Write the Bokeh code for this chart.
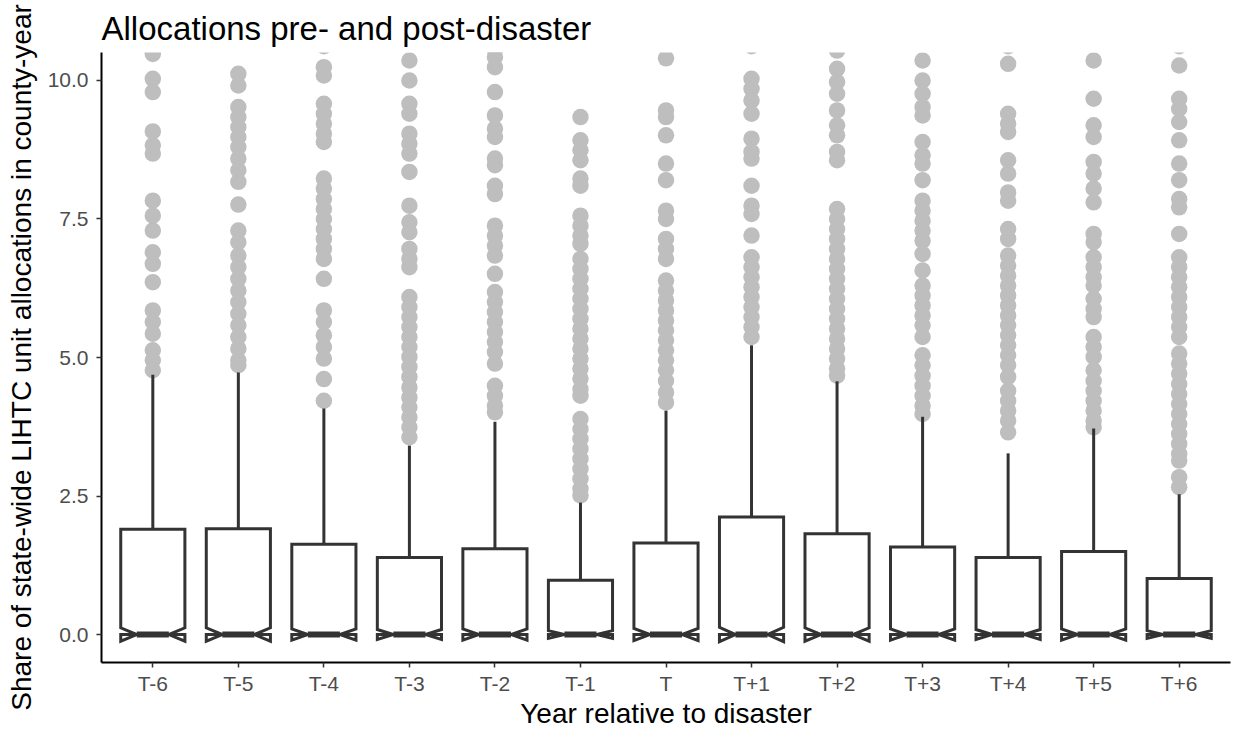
from bokeh.plotting import figure
from bokeh.models import Range1d, FixedTicker, PrintfTickFormatter
from bokeh.embed import file_html
from bokeh.resources import INLINE

categories = ["T-6", "T-5", "T-4", "T-3", "T-2", "T-1", "T",
              "T+1", "T+2", "T+3", "T+4", "T+5", "T+6"]
q1 = [0.0] * 13
median = [0.0] * 13
q3 = [1.90, 1.91, 1.63, 1.39, 1.55, 0.98, 1.65, 2.12, 1.82, 1.58, 1.39, 1.50, 1.01]
whisker_hi = [4.69, 4.73, 4.08, 3.41, 3.84, 2.38, 4.04, 5.22, 4.57, 3.93, 3.27, 3.72, 2.53]
notch = [0.12, 0.12, 0.10, 0.09, 0.10, 0.07, 0.11, 0.13, 0.12, 0.10, 0.09, 0.10, 0.07]

out_tm6 = [10.48, 10.03, 9.79, 9.08, 8.83, 8.68, 7.83, 7.56, 7.29, 6.90, 6.69, 6.36,
           5.85, 5.64, 5.43, 5.13, 4.95, 4.77]
out_tm5 = [10.12, 9.91, 9.52, 9.34, 9.16, 8.98, 8.80, 8.59, 8.38, 8.17, 7.76, 7.29, 7.08,
           6.84, 6.63, 6.42, 6.21, 6.00, 5.79, 5.58, 5.37, 5.16, 4.95, 4.86]
out_tm4 = [10.62, 10.24, 10.09, 9.58, 9.40, 9.22, 9.04, 8.89, 8.23, 8.05, 7.86, 7.68, 7.50,
           7.32, 7.14, 6.96, 6.78, 6.42, 5.85, 5.64, 5.40, 5.19, 4.98, 4.61, 4.22]
out_tm3 = [10.36, 10.00, 9.58, 9.40, 9.04, 8.86, 8.68, 8.35, 7.74, 7.44, 7.26, 6.96, 6.78,
           6.63, 6.09, 5.91, 5.73, 5.55, 5.37, 5.19, 5.01, 4.83, 4.65, 4.46, 4.28, 4.10,
           3.92, 3.74, 3.56]
out_tm2 = [10.55, 10.42, 10.24, 9.79, 9.37, 9.13, 8.98, 8.59, 8.47, 8.10, 7.95, 7.38, 7.20,
           7.02, 6.84, 6.51, 6.18, 6.00, 5.82, 5.64, 5.46, 5.28, 5.10, 4.89, 4.49, 4.31,
           4.13, 4.01]
out_tm1 = [9.34, 8.92, 8.74, 8.56, 8.23, 8.10, 7.56, 7.38, 7.20, 7.05, 6.78, 6.60, 6.42,
           6.24, 6.06, 5.88, 5.70, 5.52, 5.34, 5.16, 4.98, 4.80, 4.62, 4.43, 4.31, 3.89,
           3.71, 3.53, 3.35, 3.17, 2.99, 2.81, 2.63, 2.51]
out_t0 = [10.40, 9.46, 9.34, 9.01, 8.50, 8.20, 7.65, 7.50, 7.14, 6.96, 6.78, 6.39, 6.21,
          6.03, 5.85, 5.67, 5.49, 5.31, 5.13, 4.95, 4.77, 4.58, 4.37, 4.19]
out_tp1 = [10.62, 10.03, 9.85, 9.64, 9.40, 8.95, 8.71, 8.59, 8.10, 7.74, 7.59, 7.20, 6.81,
           6.63, 6.45, 6.27, 6.09, 5.91, 5.73, 5.55, 5.37]
out_tp2 = [10.54, 10.21, 9.97, 9.76, 9.46, 9.19, 9.01, 8.71, 8.56, 7.68, 7.50, 7.32, 7.14,
           6.96, 6.78, 6.60, 6.42, 6.24, 6.06, 5.88, 5.70, 5.52, 5.34, 5.16, 4.98, 4.80,
           4.67]
out_tp3 = [10.36, 10.00, 9.76, 9.52, 9.37, 8.89, 8.65, 8.50, 8.20, 7.83, 7.65, 7.47, 7.29,
           7.11, 6.87, 6.57, 6.30, 6.12, 5.94, 5.76, 5.58, 5.37, 5.04, 4.86, 4.67, 4.49,
           4.31, 4.13, 3.98]
out_tp4 = [10.62, 10.30, 9.40, 9.22, 9.07, 8.56, 8.32, 7.98, 7.83, 7.32, 7.14, 6.84, 6.66,
           6.48, 6.30, 6.12, 5.94, 5.76, 5.58, 5.40, 5.22, 5.04, 4.86, 4.65, 4.40, 4.22,
           4.04, 3.86, 3.65]
out_tp5 = [10.36, 9.67, 9.19, 8.98, 8.53, 8.32, 8.05, 7.80, 7.23, 7.08, 6.81, 6.63, 6.45,
           6.30, 6.06, 5.88, 5.73, 5.37, 5.19, 5.01, 4.77, 4.58, 4.40, 4.22, 4.04, 3.86,
           3.74]
out_tp6 = [10.62, 10.27, 9.67, 9.49, 9.25, 8.92, 8.50, 8.20, 7.86, 7.71, 7.23, 6.81, 6.63,
           6.45, 6.27, 6.09, 5.91, 5.73, 5.55, 5.37, 5.07, 4.89, 4.71, 4.52, 4.34, 4.16,
           3.98, 3.80, 3.62, 3.44, 3.26, 3.14, 2.84, 2.66]
outliers = [out_tm6, out_tm5, out_tm4, out_tm3, out_tm2, out_tm1, out_t0,
            out_tp1, out_tp2, out_tp3, out_tp4, out_tp5, out_tp6]

y_ticks = [0, 2.5, 5, 7.5, 10]

FONT = "Liberation Sans"
BOX_COLOR = "#333333"
OUT_COLOR = "#BEBEBE"
HALF = 0.375
INDENT = 0.1875

xpos = list(range(1, len(categories) + 1))

p = figure(width=1234, height=731,
           x_range=Range1d(0.4, 13.6), y_range=Range1d(-0.505, 10.505),
           output_backend="svg", toolbar_location=None,
           min_border_left=101, min_border_right=4,
           min_border_top=52, min_border_bottom=69)

p.background_fill_color = "white"
p.border_fill_color = "white"
p.outline_line_color = None
p.xgrid.visible = False
p.ygrid.visible = False

p.title.text = "Allocations pre- and post-disaster"
p.title.text_font = FONT
p.title.text_font_size = "33px"
p.title.text_font_style = "normal"
p.title.text_color = "black"
p.title.align = "left"
p.title.standoff = 12

# outliers
ox, oy = [], []
for x, vals in zip(xpos, outliers):
    ox.extend([x] * len(vals))
    oy.extend(vals)
p.scatter(x=ox, y=oy, size=16.5, fill_color=OUT_COLOR, line_color=None)

# whiskers
p.segment(x0=xpos, y0=q3, x1=xpos, y1=whisker_hi, line_color=BOX_COLOR, line_width=3)

# notched boxes
xs, ys = [], []
for x, lo, med, hi, n in zip(xpos, q1, median, q3, notch):
    nu, nl = med + n, med - n
    xs.append([x - HALF, x - HALF, x - INDENT, x - HALF, x - HALF,
               x + HALF, x + HALF, x + INDENT, x + HALF, x + HALF])
    ys.append([hi, nu, med, nl, lo, lo, nl, med, nu, hi])
p.patches(xs=xs, ys=ys, fill_color="white", line_color=BOX_COLOR,
          line_width=3, line_join="miter")

# medians
p.segment(x0=[x - INDENT for x in xpos], y0=median,
          x1=[x + INDENT for x in xpos], y1=median,
          line_color=BOX_COLOR, line_width=6)

# axes
for ax in (p.xaxis[0], p.yaxis[0]):
    ax.axis_line_color = "black"
    ax.axis_line_width = 2
    ax.major_tick_line_color = BOX_COLOR
    ax.major_tick_line_width = 1.5
    ax.major_tick_out = 5
    ax.major_tick_in = 0
    ax.minor_tick_line_color = None
    ax.major_label_text_font = FONT
    ax.major_label_text_font_size = "21px"
    ax.major_label_text_color = "#4D4D4D"
    ax.axis_label_text_font = FONT
    ax.axis_label_text_font_size = "28px"
    ax.axis_label_text_font_style = "normal"
    ax.axis_label_text_color = "black"

p.xaxis.ticker = FixedTicker(ticks=xpos)
p.xaxis.major_label_overrides = {x: c for x, c in zip(xpos, categories)}
p.xaxis.axis_label = "Year relative to disaster"
p.xaxis.major_label_standoff = 4
p.xaxis.axis_label_standoff = 0

p.yaxis.ticker = FixedTicker(ticks=y_ticks)
p.yaxis.formatter = PrintfTickFormatter(format="%.1f")
p.yaxis.axis_label = "Share of state-wide LIHTC unit allocations in county-year"
p.yaxis.major_label_standoff = 8
p.yaxis.axis_label_standoff = 8

open("out.html", "w").write(file_html(p, INLINE))
